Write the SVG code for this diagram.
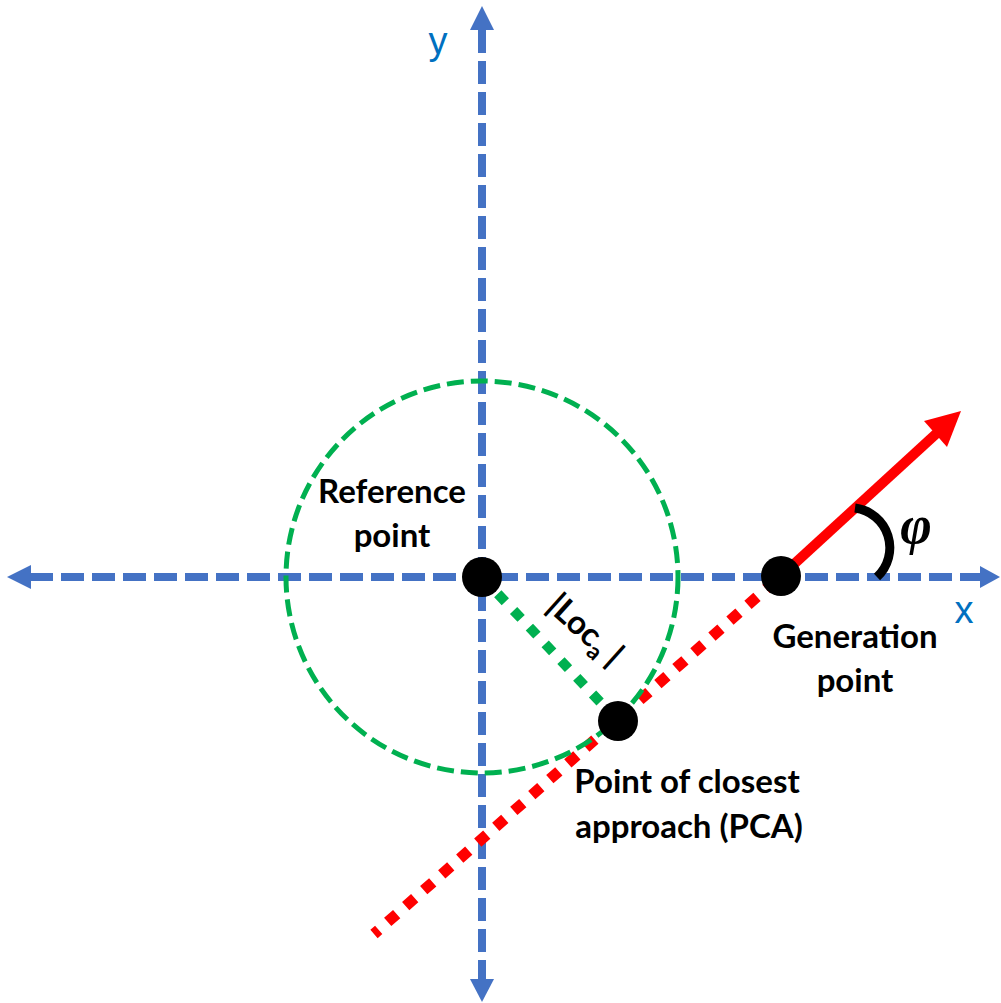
<svg xmlns="http://www.w3.org/2000/svg" width="1001" height="1003" viewBox="0 0 1001 1003">
<style>
.axis{stroke:#4472C4;stroke-width:8;stroke-dasharray:23 8;fill:none}
.ahead{fill:#4472C4}
.lbl{font-family:Lato,"Liberation Sans",sans-serif;font-weight:bold;font-size:33px;fill:#000;text-anchor:middle}
.axl{font-family:"Liberation Sans",Arial,sans-serif;font-size:38px;fill:#0070C0;text-anchor:middle}
.dot{fill:#000}
</style>
<rect width="1001" height="1003" fill="#fff"/>
<g id="axes">
<line class="axis" x1="482" y1="30" x2="482" y2="980"/>
<line class="axis" x1="30" y1="577" x2="981" y2="577"/>
<polygon class="ahead" points="482,6 494,30 470,30"/>
<polygon class="ahead" points="482,1002 494,979 470,979"/>
<polygon class="ahead" points="7,577 31,565 31,589"/>
<polygon class="ahead" points="1000,577 980,566 980,588"/>
<text class="axl" x="438" y="54">y</text>
<text class="axl" x="964" y="623">x</text>
</g>
<g id="connectors">
<line x1="775" y1="581" x2="374" y2="934" stroke="#FF0000" stroke-width="11" stroke-dasharray="12 12"/>
<circle cx="482" cy="577" r="196" fill="none" stroke="#00B050" stroke-width="5" stroke-dasharray="17 7"/>
<line x1="482" y1="577" x2="618" y2="721" stroke="#00B050" stroke-width="10" stroke-dasharray="11 12"/>
<line x1="781" y1="576" x2="937" y2="433" stroke="#FF0000" stroke-width="10"/>
<polygon points="961,411 947,447 924,421" fill="#FF0000"/>
<path d="M855,508 A40,40 0 0 1 877,577" fill="none" stroke="#000" stroke-width="9"/>
<text x="916" y="543" font-family="Liberation Serif,serif" font-style="italic" font-weight="bold" font-size="54" text-anchor="middle">φ</text>
<text class="lbl" font-size="35" transform="translate(578,638) rotate(42)">|Loc<tspan font-size="23" dy="7">a</tspan><tspan dy="-7"> |</tspan></text>
</g>
<g id="reference-point">
<circle class="dot" cx="482" cy="577" r="20"/>
<text class="lbl" x="392" y="503">Reference</text>
<text class="lbl" x="392" y="547">point</text>
</g>
<g id="generation-point">
<circle class="dot" cx="781" cy="576" r="20"/>
<text class="lbl" x="855" y="648">Generation</text>
<text class="lbl" x="855" y="692">point</text>
</g>
<g id="pca">
<circle class="dot" cx="618" cy="721" r="20"/>
<text class="lbl" x="687" y="793">Point of closest</text>
<text class="lbl" x="689" y="838">approach (PCA)</text>
</g>
</svg>
